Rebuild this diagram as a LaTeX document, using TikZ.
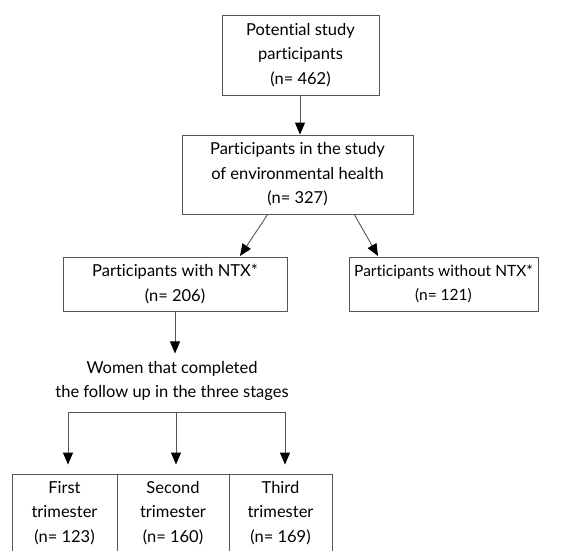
\documentclass[tikz,border=0pt]{standalone}
\usepackage{fontspec}
\setmainfont[Ligatures={NoCommon}]{Lato}
\usetikzlibrary{arrows.meta}
\definecolor{boxline}{HTML}{555555}
\tikzset{
  box/.style={draw=boxline, line width=0.9pt, align=center, inner sep=0pt, font=\fontsize{16.5}{24.5}\selectfont},
  plain/.style={align=center, inner sep=0pt, font=\fontsize{16.5}{24.5}\selectfont},
  conn/.style={draw=boxline, line width=0.9pt},
  arr/.style={conn, -{Triangle[length=12pt,width=10pt,fill=black,color=black]}}
}
\begin{document}
\begin{tikzpicture}[x=1pt,y=-1pt]
\useasboundingbox (0,0) rectangle (575,550);
\clip (0,0) rectangle (575,550);
\node[box, minimum width=157pt, minimum height=80pt] (top) at (300.5,55) {Potential study\\participants\\(n= 462)};
\node[box, minimum width=231pt, minimum height=79pt] (env) at (297.5,174.5) {Participants in the study\\of environmental health\\(n= 327)};
\node[box, minimum width=224pt, minimum height=54pt] (with) at (175,284) {Participants with NTX*\\(n= 206)};
\node[box, minimum width=189pt, minimum height=54pt, font=\fontsize{15.5}{24.5}\selectfont] (without) at (443.5,284) {Participants without NTX*\\(n= 121)};
\node[plain] (women) at (172,381) {Women that completed\\the follow up in the three stages};
\node[box, minimum width=105pt, minimum height=78pt] (t1) at (64.5,513) {First\\trimester\\(n= 123)};
\node[box, minimum width=112pt, minimum height=78pt] (t2) at (173,513) {Second\\trimester\\(n= 160)};
\node[box, minimum width=103pt, minimum height=78pt] (t3) at (280.5,513) {Third\\trimester\\(n= 169)};
\coordinate (j1) at (68,412);
\coordinate (j2) at (176,412);
\coordinate (j3) at (285,412);
\coordinate (e1) at (268,214);
\coordinate (e2) at (354,214);
\draw[arr] (top.south -| 300,0) -- (env.north -| 300,0);
\draw[arr] (e1) -- (240,256);
\draw[arr] (e2) -- (378,256);
\draw[arr] (with.south) -- ++(0,42);
\draw[conn] (j1) -- (j3);
\draw[arr, shorten >=9pt] (j1) -- (j1 |- t1.north);
\draw[arr, shorten >=9pt] (j2) -- (j2 |- t2.north);
\draw[arr, shorten >=9pt] (j3) -- (j3 |- t3.north);
\end{tikzpicture}
\end{document}
